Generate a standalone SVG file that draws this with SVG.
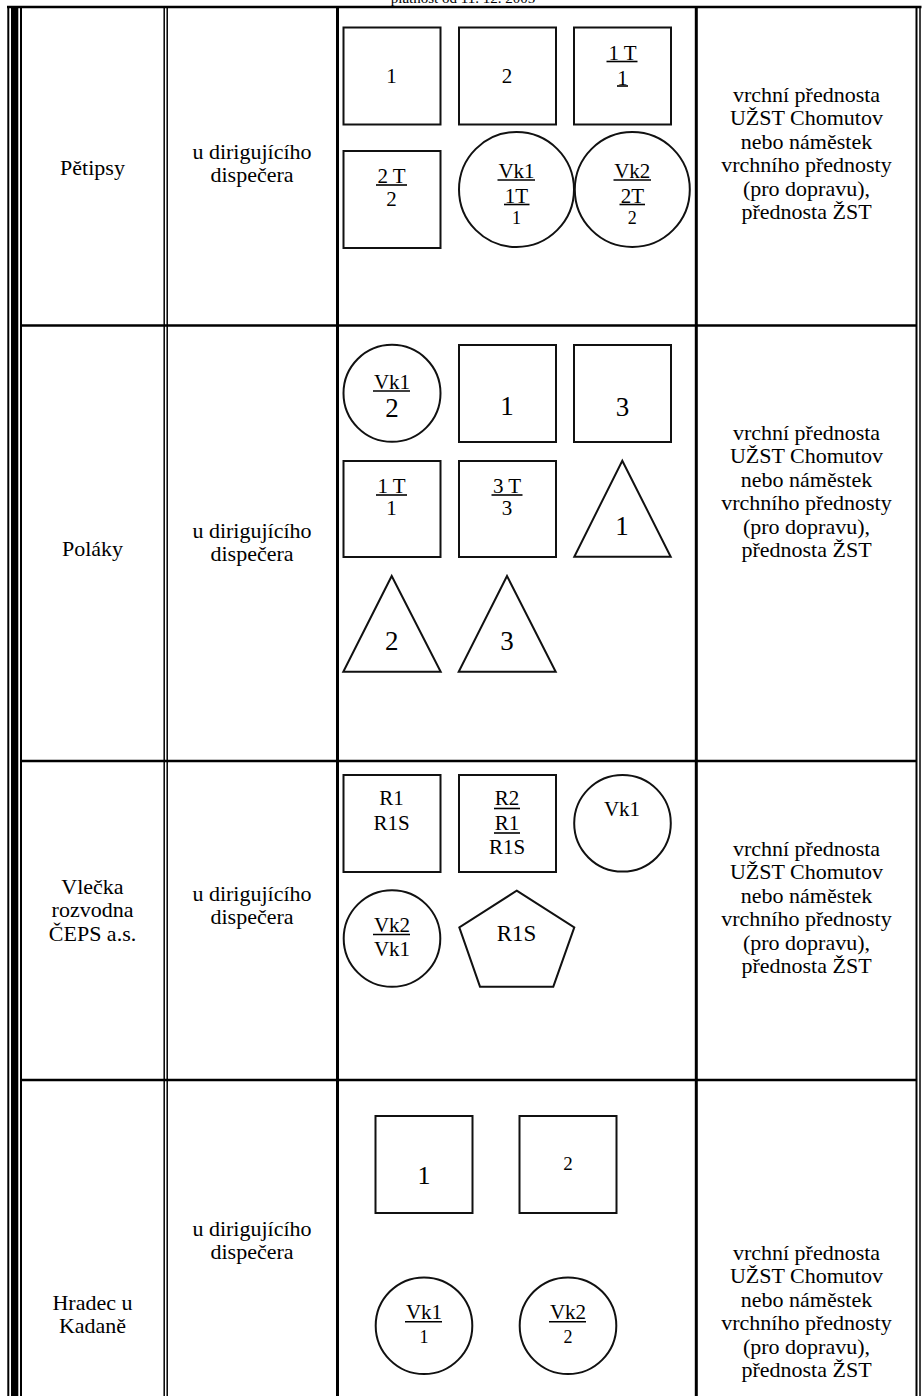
<svg xmlns="http://www.w3.org/2000/svg" width="923" height="1396" viewBox="0 0 923 1396">
<style>
.t{font-family:"Liberation Serif","Times New Roman",serif;font-size:22px;text-anchor:middle;fill:#000}
.m{font-size:21px}
.b{font-size:27px}
.sm{font-size:18px}
.s{fill:none;stroke:#111;stroke-width:2}
.u{stroke:#000;stroke-width:1.6}
.g{stroke:#000;fill:none}
</style>
<rect width="923" height="1396" fill="#fff"/>
<text class="t" x="463" y="3" style="font-size:15px">platnost od 11. 12. 2005</text>
<g id="table">
<line class="g" x1="7" y1="7" x2="921.5" y2="7" stroke-width="2.5"/>
<line class="g" x1="8.3" y1="6" x2="8.3" y2="1396" stroke-width="2"/>
<rect x="11" y="8" width="7.3" height="1388" fill="#000"/>
<line class="g" x1="21" y1="8" x2="21" y2="1396" stroke-width="2"/>
<line class="g" x1="164.2" y1="8" x2="164.2" y2="1396" stroke-width="1.5"/>
<line class="g" x1="167.2" y1="8" x2="167.2" y2="1396" stroke-width="1.5"/>
<line class="g" x1="337.5" y1="8" x2="337.5" y2="1396" stroke-width="3"/>
<line class="g" x1="696.3" y1="8" x2="696.3" y2="1396" stroke-width="3"/>
<line class="g" x1="916.5" y1="8" x2="916.5" y2="1396" stroke-width="2"/>
<line class="g" x1="920" y1="6" x2="920" y2="1396" stroke-width="1.5"/>
<line class="g" x1="22" y1="325.5" x2="916" y2="325.5" stroke-width="2.5"/>
<line class="g" x1="22" y1="761" x2="916" y2="761" stroke-width="2.5"/>
<line class="g" x1="22" y1="1080" x2="916" y2="1080" stroke-width="2.5"/>
</g>
<g id="row1-labels">
<text class="t" x="92.5" y="175">Pětipsy</text>
<text class="t" x="252" y="159">u dirigujícího</text>
<text class="t" x="252" y="182.4">dispečera</text>
<text class="t" x="806.5" y="102">vrchní přednosta</text>
<text class="t" x="806.5" y="125.4">UŽST Chomutov</text>
<text class="t" x="806.5" y="148.8">nebo náměstek</text>
<text class="t" x="806.5" y="172.2">vrchního přednosty</text>
<text class="t" x="806.5" y="195.6">(pro dopravu),</text>
<text class="t" x="806.5" y="219">přednosta ŽST</text>
</g>
<g id="r1-sq1"><rect class="s" x="343.5" y="27.5" width="97" height="97"/><text class="t m" x="391.5" y="83.3">1</text></g>
<g id="r1-sq2"><rect class="s" x="459" y="27.5" width="97" height="97"/><text class="t m" x="507" y="83.3">2</text></g>
<g id="r1-sq3"><rect class="s" x="574" y="27.5" width="97" height="97"/><text class="t m" x="622.5" y="59.5">1 T</text><line class="u" x1="606.5" y1="61.5" x2="637.5" y2="61.5"/><text class="t m" x="622.5" y="84.5">1</text><line class="u" x1="617" y1="86" x2="628" y2="86"/></g>
<g id="r1-sq4"><rect class="s" x="343.5" y="151" width="97" height="97"/><text class="t m" x="391.5" y="183">2 T</text><line class="u" x1="376" y1="185" x2="407" y2="185"/><text class="t m" x="391.5" y="206">2</text></g>
<g id="r1-c1"><circle class="s" cx="516.5" cy="189.5" r="57.5"/><text class="t m" x="516.5" y="178">Vk1</text><line class="u" x1="497.5" y1="180" x2="535" y2="180"/><text class="t m" x="516.5" y="202.5">1T</text><line class="u" x1="504" y1="204.5" x2="529.5" y2="204.5"/><text class="t sm" x="516.5" y="224">1</text></g>
<g id="r1-c2"><circle class="s" cx="632.3" cy="189.5" r="57.5"/><text class="t m" x="632.3" y="178">Vk2</text><line class="u" x1="613.5" y1="180" x2="651" y2="180"/><text class="t m" x="632.3" y="202.5">2T</text><line class="u" x1="619.5" y1="204.5" x2="645" y2="204.5"/><text class="t sm" x="632.3" y="224">2</text></g>
<g id="row2-labels">
<text class="t" x="92.5" y="556">Poláky</text>
<text class="t" x="252" y="538">u dirigujícího</text>
<text class="t" x="252" y="561.4">dispečera</text>
<text class="t" x="806.5" y="440">vrchní přednosta</text>
<text class="t" x="806.5" y="463.4">UŽST Chomutov</text>
<text class="t" x="806.5" y="486.8">nebo náměstek</text>
<text class="t" x="806.5" y="510.2">vrchního přednosty</text>
<text class="t" x="806.5" y="533.6">(pro dopravu),</text>
<text class="t" x="806.5" y="557">přednosta ŽST</text>
</g>
<g id="r2-c1"><circle class="s" cx="392" cy="393.3" r="48.5"/><text class="t m" x="392" y="389">Vk1</text><line class="u" x1="373" y1="391" x2="410" y2="391"/><text class="t b" x="392" y="417">2</text></g>
<g id="r2-sq1"><rect class="s" x="459" y="345" width="97" height="97"/><text class="t b" x="507" y="415">1</text></g>
<g id="r2-sq3"><rect class="s" x="574" y="345" width="97" height="97"/><text class="t b" x="622.5" y="415.5">3</text></g>
<g id="r2-sq1t"><rect class="s" x="343.5" y="461" width="97" height="96"/><text class="t m" x="391.5" y="493">1 T</text><line class="u" x1="376" y1="495" x2="407" y2="495"/><text class="t m" x="391.5" y="514.5">1</text></g>
<g id="r2-sq3t"><rect class="s" x="459" y="461" width="97" height="96"/><text class="t m" x="507" y="493">3 T</text><line class="u" x1="491.5" y1="495" x2="522.5" y2="495"/><text class="t m" x="507" y="514.5">3</text></g>
<g id="r2-tr1"><polygon class="s" points="622.3,460.7 670.7,556.7 574.3,556.7"/><text class="t b" x="622" y="535">1</text></g>
<g id="r2-tr2"><polygon class="s" points="391.7,576 440.7,671.7 343.3,671.7"/><text class="t b" x="391.7" y="650">2</text></g>
<g id="r2-tr3"><polygon class="s" points="507,576 555.7,671.7 458.7,671.7"/><text class="t b" x="507" y="650">3</text></g>
<g id="row3-labels">
<text class="t" x="92.5" y="894">Vlečka</text>
<text class="t" x="92.5" y="917.4">rozvodna</text>
<text class="t" x="92.5" y="940.8">ČEPS a.s.</text>
<text class="t" x="252" y="901">u dirigujícího</text>
<text class="t" x="252" y="924.4">dispečera</text>
<text class="t" x="806.5" y="856">vrchní přednosta</text>
<text class="t" x="806.5" y="879.4">UŽST Chomutov</text>
<text class="t" x="806.5" y="902.8">nebo náměstek</text>
<text class="t" x="806.5" y="926.2">vrchního přednosty</text>
<text class="t" x="806.5" y="949.6">(pro dopravu),</text>
<text class="t" x="806.5" y="973">přednosta ŽST</text>
</g>
<g id="r3-sq1"><rect class="s" x="343.5" y="775" width="97" height="97"/><text class="t m" x="391.5" y="805">R1</text><text class="t m" x="391.5" y="830">R1S</text></g>
<g id="r3-sq2"><rect class="s" x="459" y="775" width="97" height="97"/><text class="t m" x="507" y="805">R2</text><line class="u" x1="494" y1="808.5" x2="520" y2="808.5"/><text class="t m" x="507" y="830">R1</text><line class="u" x1="494" y1="833" x2="520" y2="833"/><text class="t m" x="507" y="854">R1S</text></g>
<g id="r3-c1"><circle class="s" cx="622.5" cy="823.3" r="48.3"/><text class="t m" x="622" y="816">Vk1</text></g>
<g id="r3-c2"><circle class="s" cx="392" cy="938.5" r="48.3"/><text class="t m" x="392" y="931.5">Vk2</text><line class="u" x1="373" y1="934.5" x2="410" y2="934.5"/><text class="t m" x="392" y="956">Vk1</text></g>
<g id="r3-pent"><polygon class="s" points="516.7,890.7 574.3,927.3 553.3,986.7 480,986.7 459.3,927.3"/><text class="t" x="516.5" y="941" style="font-size:23px">R1S</text></g>
<g id="row4-labels">
<text class="t" x="92.5" y="1309.5">Hradec u</text>
<text class="t" x="92.5" y="1333">Kadaně</text>
<text class="t" x="252" y="1236">u dirigujícího</text>
<text class="t" x="252" y="1259.4">dispečera</text>
<text class="t" x="806.5" y="1260">vrchní přednosta</text>
<text class="t" x="806.5" y="1283.4">UŽST Chomutov</text>
<text class="t" x="806.5" y="1306.8">nebo náměstek</text>
<text class="t" x="806.5" y="1330.2">vrchního přednosty</text>
<text class="t" x="806.5" y="1353.6">(pro dopravu),</text>
<text class="t" x="806.5" y="1377">přednosta ŽST</text>
</g>
<g id="r4-sq1"><rect class="s" x="375.5" y="1116" width="97" height="97"/><text class="t" x="424" y="1184" style="font-size:26px">1</text></g>
<g id="r4-sq2"><rect class="s" x="519.5" y="1116" width="97" height="97"/><text class="t" x="568" y="1170" style="font-size:19px">2</text></g>
<g id="r4-c1"><circle class="s" cx="424" cy="1325.7" r="48.3"/><text class="t m" x="424" y="1319">Vk1</text><line class="u" x1="405" y1="1321.7" x2="442" y2="1321.7"/><text class="t sm" x="424" y="1342.7">1</text></g>
<g id="r4-c2"><circle class="s" cx="568" cy="1325.7" r="48.3"/><text class="t m" x="568" y="1319">Vk2</text><line class="u" x1="549" y1="1321.7" x2="586" y2="1321.7"/><text class="t sm" x="568" y="1342.7">2</text></g>
<g id="connectors"></g>
</svg>
